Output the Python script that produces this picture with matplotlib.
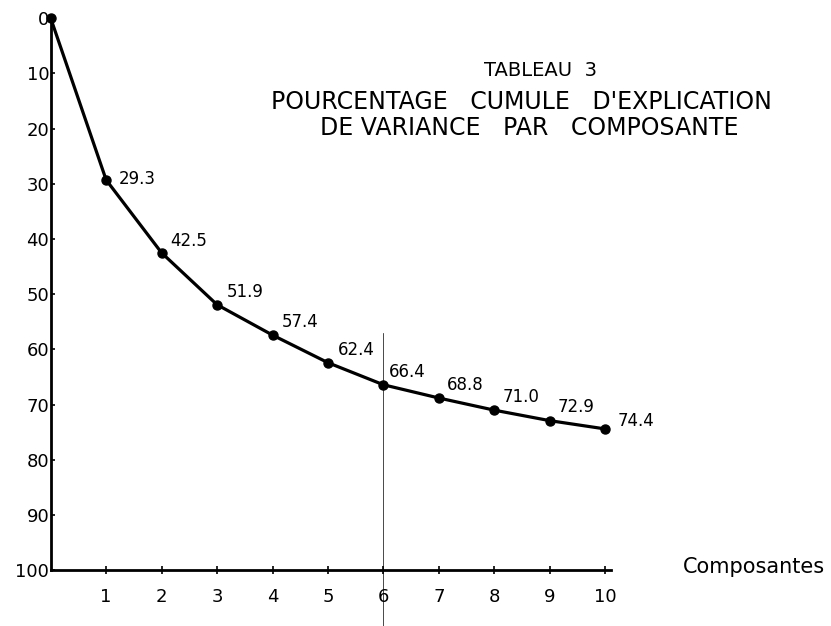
import matplotlib
matplotlib.use("Agg")
from matplotlib import rc, pyplot as plt

rc('font', family=['DejaVu Sans'])
rc('axes', linewidth=2)

# cumulative % of explained variance per component
composantes = [0, 1, 2, 3, 4, 5, 6, 7, 8, 9, 10]
pourcentage = [0, 29.3, 42.5, 51.9, 57.4, 62.4, 66.4, 68.8, 71.0, 72.9, 74.4]
labels = ["29.3", "42.5", "51.9", "57.4", "62.4", "66.4", "68.8", "71.0", "72.9", "74.4"]
yticks = [0, 10, 20, 30, 40, 50, 60, 70, 80, 90, 100]
xticks = [1, 2, 3, 4, 5, 6, 7, 8, 9, 10]

fig = plt.figure(figsize=(8.31, 6.26), dpi=100)
ax = fig.add_axes([0.061, 0.089, 0.674, 0.882])

ax.plot(composantes, pourcentage, color='black', lw=2.3, marker='o', ms=6.5, clip_on=False, zorder=3)

# offsets (points) of value labels
offs = [(9, -6), (6, 2), (7, 3), (7, 3), (7, 3), (4, 3), (6, 3), (6, 3), (6, 3), (9, -1)]
for x, y, lab, o in zip(composantes[1:], pourcentage[1:], labels, offs):
    ax.annotate(lab, (x, y), xytext=o, textcoords='offset points', fontsize=12, va='bottom', ha='left')

# thin vertical marker at component 6
ax.plot([6, 6], [57, 111], color='black', lw=0.5, clip_on=False, zorder=2)

ax.set_xlim(0, 10.1)
ax.set_ylim(100, 0)
ax.set_yticks(yticks)
ax.set_yticklabels([str(v) for v in yticks], fontsize=13)
ax.set_xticks(xticks)
ax.set_xticklabels([str(v) for v in xticks], fontsize=13)
ax.tick_params(axis='y', direction='in', length=3, width=1.2, pad=1)
ax.tick_params(axis='x', direction='inout', length=6, width=1.2, pad=10)
for t in ax.get_yticklabels():
    t.set_verticalalignment('center_baseline')
ax.spines['top'].set_visible(False)
ax.spines['right'].set_visible(False)

fig.text(0.651, 0.888, "TABLEAU  3", fontsize=14, ha='center', va='center')
fig.text(0.627, 0.837, "POURCENTAGE   CUMULE   D'EXPLICATION", fontsize=17, ha='center', va='center')
fig.text(0.637, 0.795, "DE VARIANCE   PAR   COMPOSANTE", fontsize=17, ha='center', va='center')
fig.text(0.822, 0.094, "Composantes", fontsize=15, ha='left', va='center')

fig.savefig("out.png", dpi=100)
